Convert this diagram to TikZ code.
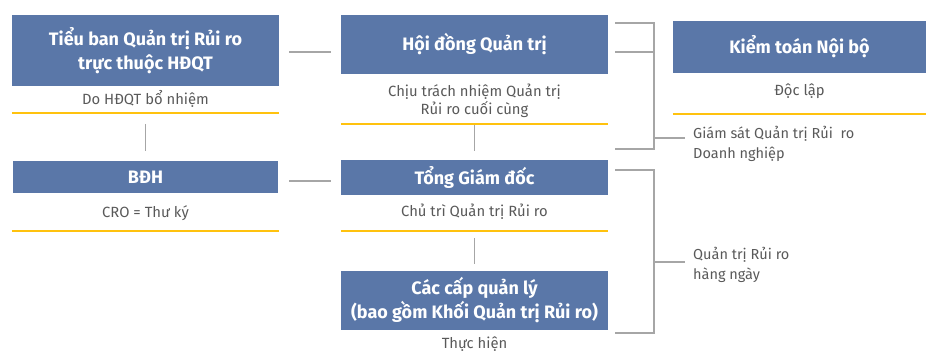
\documentclass[tikz,border=0pt]{standalone}
\usepackage{fontspec}
\setmainfont{Fira Sans}
\usetikzlibrary{positioning}

\definecolor{boxblue}{HTML}{5A77A8}
\definecolor{gold}{HTML}{FFC20E}
\definecolor{linegray}{HTML}{A6A6A6}
\definecolor{textgray}{HTML}{595959}

\def\colw{267pt}

\begin{document}
\begin{tikzpicture}[x=1pt,y=-1pt]
    \tikzstyle{unit}=[rectangle, fill=boxblue, text=white, font=\fontsize{18}{24}\selectfont\bfseries, align=center, minimum width=\colw, inner sep=0pt]
    \tikzstyle{caption}=[text=textgray, font=\fontsize{14.8}{18.5}\selectfont, align=center, inner sep=0pt]
    \tikzstyle{note}=[text=textgray, font=\fontsize{14.5}{20}\selectfont, align=left, anchor=west, inner sep=0pt]
    \tikzstyle{rule}=[draw=gold, line width=2pt]
    \tikzstyle{link}=[draw=linegray, line width=1.3pt]

    \useasboundingbox (0,0) rectangle (926,358);

    % Draw the boxes
    \node[unit, minimum height=71pt] (TB) at (145.5,50.5) {Tiểu ban Quản trị Rủi ro\\trực thuộc HĐQT};
    \node[unit, minimum height=32pt, minimum width=265pt] (BDH) at (145.5,177) {BĐH};
    \node[unit, minimum height=59pt] (HDQT) at (474.5,44.5) {Hội đồng Quản trị};
    \node[unit, minimum height=35pt] (TGD) at (474.5,177.5) {Tổng Giám đốc};
    \node[unit, minimum height=59pt] (CCQL) at (474.5,300.5) {Các cấp quản lý\\(bao gồm Khối Quản trị Rủi ro)};
    \node[unit, minimum height=52pt, minimum width=253pt] (KTNB) at (799.5,47) {Kiểm toán Nội bộ};

    % Captions under the boxes
    \node[caption] (TB-c) at (145.5,99) {Do HĐQT bổ nhiệm};
    \node[caption] (BDH-c) at (145.5,213) {CRO = Thư ký};
    \node[caption] (HDQT-c) at (474.5,101) {Chịu trách nhiệm Quản trị\\Rủi ro cuối cùng};
    \node[caption] (TGD-c) at (474.5,212) {Chủ trì Quản trị Rủi ro};
    \node[caption] (CCQL-c) at (474.5,344) {Thực hiện};
    \node[caption] (KTNB-c) at (799.5,91) {Độc lập};

    % Yellow rules
    \coordinate (TB-r) at (145.5,113);
    \coordinate (BDH-r) at (145.5,231);
    \coordinate (HDQT-r) at (474.5,124);
    \coordinate (TGD-r) at (474.5,231);
    \coordinate (KTNB-r) at (799.5,114);
    \draw[rule] (TB.west |- TB-r) -- (TB.east |- TB-r);
    \draw[rule] (TB.west |- BDH-r) -- (TB.east |- BDH-r);
    \draw[rule] (HDQT.west |- HDQT-r) -- (HDQT.east |- HDQT-r);
    \draw[rule] (HDQT.west |- TGD-r) -- (HDQT.east |- TGD-r);
    \draw[rule] (KTNB.west |- KTNB-r) -- (KTNB.east |- KTNB-r);

    % Connect the columns
    \draw[link] ([yshift=-1.5pt]TB.east) ++(10,0) -- ++(42,0);
    \draw[link] ([yshift=-4pt]BDH.east) ++(11,0) -- ++(42,0);
    \draw[link] (TB-r) ++(0,11) -- ++(0,27);
    \draw[link] (HDQT-r) ++(0,1) -- ++(0,26);
    \draw[link] (TGD-r) ++(0,7) -- ++(0,26);

    % Brackets to the notes
    \node[note] (sup) at (693,144) {Giám sát Quản trị Rủi\ \ ro\\Doanh nghiệp};
    \node[note] (daily) at (693,265) {Quản trị Rủi ro\\hàng ngày};
    \coordinate (b1) at (654,23);
    \coordinate (b2) at (654,149);
    \coordinate (b3) at (654,170);
    \coordinate (b4) at (654,333);
    \draw[link] (615,23) -- (b1) -- (b2) -- (615,149);
    \draw[link] (615,52) -- (654,52);
    \draw[link] (654,138) -- (685,138);
    \draw[link] (615,170) -- (b3) -- (b4) -- (615,333);
    \draw[link] (654,262) -- (685,262);
\end{tikzpicture}
\end{document}
